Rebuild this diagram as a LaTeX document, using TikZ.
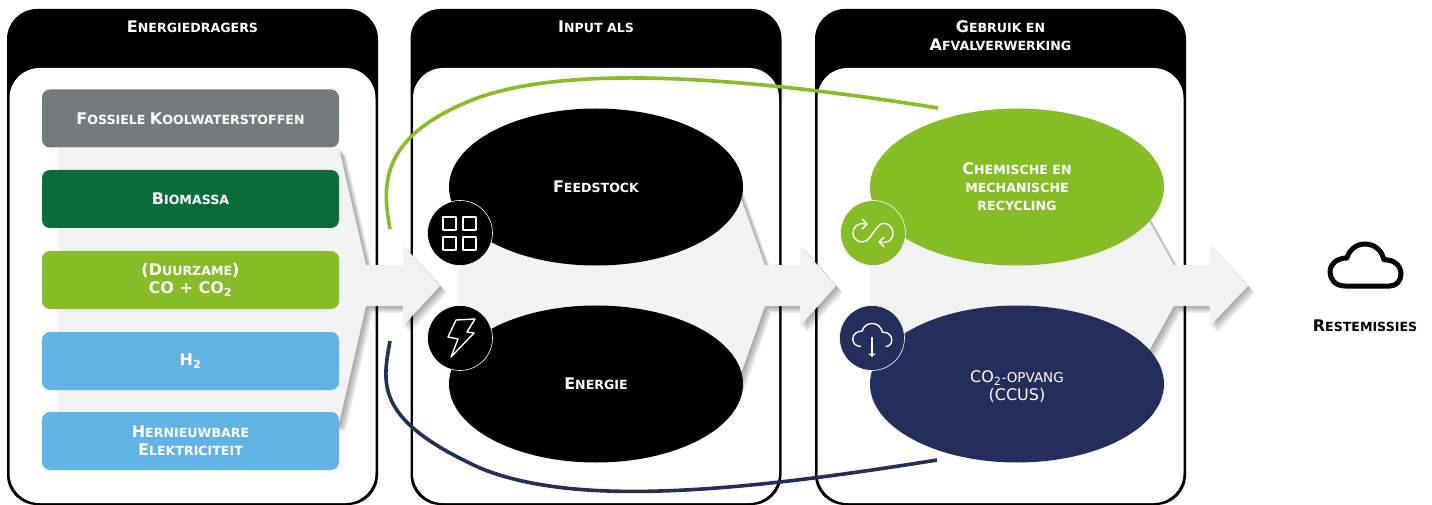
\documentclass[tikz,border=0pt]{standalone}
\usepackage{fontspec}
\setmainfont{DejaVu Sans}
\usetikzlibrary{shapes.geometric}
\definecolor{fossilgrey}{HTML}{757A7D}
\definecolor{biogreen}{HTML}{0B6B3A}
\definecolor{limegreen}{HTML}{86BC25}
\definecolor{skyblue}{HTML}{62B3E5}
\definecolor{navyblue}{HTML}{242E5C}
\definecolor{flowgrey}{HTML}{F2F2F2}
\newcommand{\Bg}[1]{{\fontsize{16}{18}\selectfont #1}}
\newcommand{\Funnel}[7]{%
  \foreach \d in {1,...,7}{\fill[black,opacity=.055,shift={(\d,\d)}] (#1,#2) -- (#3,#2) -- (#4,265) -- (#5,265) -- (#5,245) -- (#6,286) -- (#5,326) -- (#5,306) -- (#4,306) -- (#3,#7) -- (#1,#7) -- cycle;}
  \fill[flowgrey] (#1,#2) -- (#3,#2) -- (#4,265) -- (#5,265) -- (#5,245) -- (#6,286) -- (#5,326) -- (#5,306) -- (#4,306) -- (#3,#7) -- (#1,#7) -- cycle;}
\newcommand{\CloudPath}{(-20,21) .. controls (-30,21) and (-35,14) .. (-35,7) .. controls (-35,-1) and (-28,-7) .. (-18,-7) .. controls (-16,-15) and (-9,-21) .. (0,-21) .. controls (10,-21) and (17,-14) .. (19,-5) .. controls (29,-6) and (36,1) .. (36,9) .. controls (36,16) and (31,21) .. (25,21)}
\tikzset{
  panel/.style={rectangle,rounded corners=30pt,fill=black,minimum width=371pt,minimum height=496pt,inner sep=0pt},
  panelinner/.style={rectangle,rounded corners=30pt,fill=white,minimum width=366pt,minimum height=435pt,inner sep=0pt},
  label/.style={text=white,font=\fontsize{12.6}{18}\selectfont\bfseries,align=center,inner sep=0pt},
  carrier/.style={label,rectangle,rounded corners=8pt,minimum width=297pt,minimum height=58pt},
  blob/.style={label,ellipse,minimum width=294pt,minimum height=157pt},
  thinblob/.style={blob,font=\fontsize{13.5}{18}\selectfont},
  badge/.style={circle,draw=white,line width=.6pt,minimum size=65pt,inner sep=0pt},
  iconline/.style={draw=white,line width=1.4pt,line join=round},
  loopline/.style={line width=3.6pt}
}
\begin{document}
\begin{tikzpicture}[x=1pt,y=-1pt]
      \useasboundingbox (0,0) rectangle (1432,505);

      \node[panel] (P1) at (192.5,257) {};
      \node[panel] (P2) at (596,257) {};
      \node[panel] (P3) at (1000.5,257) {};
      \node[panelinner] (I1) at (192.5,285.5) {};
      \node[panelinner] (I2) at (596,285.5) {};
      \node[panelinner] (I3) at (1000.5,285.5) {};

      \node[label] (T1) at (192.5,26.5) {\Bg{E}NERGIEDRAGERS};
      \node[label] (T2) at (596,26.5) {\Bg{I}NPUT ALS};
      \node[label] (T3) at (1000.5,36) {\Bg{G}EBRUIK EN\\\Bg{A}FVALVERWERKING};

      \Funnel{58}{148}{339}{366}{403}{440}{424}
      \Funnel{458}{187}{737}{765}{800}{836}{385}
      \Funnel{870}{187}{1130}{1174}{1210}{1248}{385}

      \node[carrier,fill=fossilgrey] (C1) at (190.5,118.5) {\Bg{F}OSSIELE \Bg{K}OOLWATERSTOFFEN};
      \node[carrier,fill=biogreen] (C2) at (190.5,199) {\Bg{B}IOMASSA};
      \node[carrier,fill=limegreen] (C3) at (190.5,280) {\Bg{(D}UURZAME\Bg{)}\\\Bg{CO + CO\textsubscript{2}}};
      \node[carrier,fill=skyblue] (C4) at (190.5,361) {\Bg{H\textsubscript{2}}};
      \node[carrier,fill=skyblue] (C5) at (190.5,441) {\Bg{H}ERNIEUWBARE\\\Bg{E}LEKTRICITEIT};

      \node[blob,fill=black] (E1) at (596,187) {\Bg{F}EEDSTOCK};
      \node[blob,fill=black] (E2) at (596,384) {\Bg{E}NERGIE};
      \node[blob,fill=limegreen] (E3) at (1017,187) {\Bg{C}HEMISCHE EN\\MECHANISCHE\\RECYCLING};
      \node[thinblob,fill=navyblue] (E4) at (1017,384) {\rule{0pt}{18pt}\Bg{CO\textsubscript{2}}-OPVANG\\\Bg{(CCUS)}};

      \node[badge,fill=black] (B1) at (460,233) {};
      \node[badge,fill=black] (B2) at (460,338) {};
      \node[badge,fill=limegreen] (B3) at (873,233) {};
      \node[badge,fill=navyblue] (B4) at (872,338) {};

      \draw[iconline] (443,217) rectangle (456,230);
      \draw[iconline] (463,217) rectangle (476,230);
      \draw[iconline] (443,237) rectangle (456,250);
      \draw[iconline] (463,237) rectangle (476,250);
      \draw[iconline] (456,320) -- (475,319) -- (467,332) -- (474,333) -- (451,357) -- (458,339) -- (448,337) -- cycle;
      \draw[iconline] (866,224) .. controls (858,222) and (853,227) .. (853,233) .. controls (853,240) and (860,244) .. (866,241) .. controls (871,238) and (875,228) .. (881,224) .. controls (887,221) and (893,227) .. (893,233) .. controls (893,240) and (887,244) .. (880,242);
      \draw[iconline] (862,219) -- (867,224) -- (862,229);
      \draw[iconline] (884,237) -- (879,242) -- (884,247);
      \draw[iconline,shift={(872,335)},scale=.55] \CloudPath;
      \draw[iconline,->] (872,337) -- (872,357);

      \draw[line width=5pt,line join=round,shift={(1365,265)}] \CloudPath -- cycle;
      \node[label,text=black] (R1) at (1365,326) {\Bg{R}ESTEMISSIES};

      \coordinate (G1) at (390,229);
      \coordinate (G2) at (938,108);
      \coordinate (N1) at (390,341);
      \coordinate (N2) at (937,460);
      \draw[loopline,draw=limegreen] (G1) .. controls (382,185) and (378,135) .. (480,97) .. controls (560,70) and (700,70) .. (G2);
      \draw[loopline,draw=navyblue] (N1) .. controls (382,385) and (375,420) .. (480,468) .. controls (570,505) and (720,495) .. (N2);
\end{tikzpicture}
\end{document}
